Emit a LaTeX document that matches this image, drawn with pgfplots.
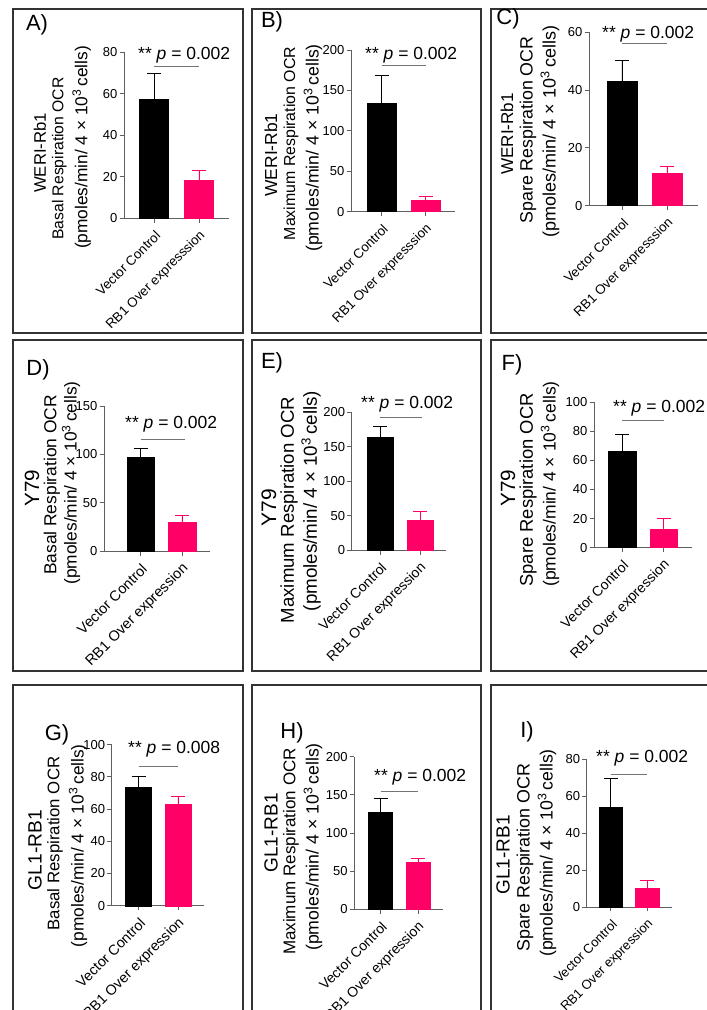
\documentclass[border=0pt]{standalone}
\usepackage{pgfplots}
\pgfplotsset{compat=1.18}
\usepackage{fontspec}
\setmainfont{Liberation Sans}
\definecolor{ocrpink}{RGB}{255,0,102}
\definecolor{axgray}{RGB}{95,95,95}
\tikzset{xlab/.style={rotate=45, anchor=east, inner sep=0pt, font=\fontsize{#1}{#1}\selectfont}}
\newcommand{\xlabs}[2]{%
  \node[xlab=#1] at ([xshift=4pt,yshift=-15pt]axis cs:0,0) {Vector Control};
  \node[xlab=#1] at ([xshift=4pt,yshift=-15pt]axis cs:1,0) {#2};}
\pgfplotsset{
  panel/.style={
    scale only axis, anchor=south west,
    axis x line*=bottom, axis y line*=left,
    axis line style={axgray, line width=0.9pt},
    tick style={axgray, line width=0.9pt},
    tick align=outside, major tick length=4.5pt,
    ymin=0, xtick={0,1}, xticklabels={},
    yticklabel style={font=\fontsize{13}{15}\selectfont, inner sep=2pt},
    /pgf/number format/assume math mode=true,
    clip=false,
  },
  blackbar/.style={ybar, bar width=#1, bar shift=0pt, fill=black, draw=black,
    error bars/y dir=plus, error bars/y explicit,
    error bars/error bar style={black, line width=0.9pt},
    error bars/error mark options={black, rotate=90, mark size=7pt, line width=0.9pt}},
  pinkbar/.style={ybar, bar width=#1, bar shift=0pt, fill=ocrpink, draw=ocrpink,
    error bars/y dir=plus, error bars/y explicit,
    error bars/error bar style={ocrpink, line width=0.9pt},
    error bars/error mark options={ocrpink, rotate=90, mark size=7pt, line width=0.9pt}},
  sigline/.style={black!55, line width=0.8pt, no marks},
}
% one rotated line of the y label: x, y, size, text
\newcommand{\yl}[4]{\node[rotate=90, inner sep=0pt, font=\fontsize{#3}{#3}\selectfont] at (#1,#2) {#4};}
\newcommand{\unitline}{(pmoles/min/ 4 × 10\textsuperscript{3}\,cells)}
\newcommand{\plab}[3]{\node[font=\fontsize{22}{24}\selectfont] at (#1,#2) {#3};}
\newcommand{\sig}[3]{\node[anchor=base west, inner sep=0pt, font=\fontsize{17.5}{19}\selectfont] at (#1,#2) {** \textit{p} = #3};}
\begin{document}
\begin{tikzpicture}[x=1pt,y=1pt]
\useasboundingbox (0,0) rectangle (707,1010);
\clip (0,0) rectangle (707,1010);
% panel boxes
\begin{scope}[black!80, line width=1.3pt]
\draw (13,677) rectangle (243,1001);
\draw (252,677) rectangle (481,1001);
\draw (491,677) rectangle (720,1001);
\draw (13,339) rectangle (243,670);
\draw (252,339) rectangle (481,670);
\draw (491,339) rectangle (720,670);
\draw (13,-20) rectangle (243,325);
\draw (252,-20) rectangle (481,325);
\draw (491,-20) rectangle (720,325);
\end{scope}

% A
\begin{axis}[panel, at={(124pt,791.7pt)}, width=105pt, height=166pt, xmin=-0.667, xmax=1.667, ymax=80, ytick={0,20,40,60,80}]
\addplot[blackbar=29pt] coordinates {(0,57.2) +- (0,12.5)};
\addplot[pinkbar=29pt] coordinates {(1,18.5) +- (0,4.6)};
\addplot[sigline] coordinates {(0,73.1) (1,73.1)};
\xlabs{13.3}{RB1 Over expresssion}
\end{axis}
% B
\begin{axis}[panel, at={(351pt,798.3pt)}, width=104pt, height=161.7pt, xmin=-0.693, xmax=1.67, ymax=200, ytick={0,50,100,150,200}]
\addplot[blackbar=29pt] coordinates {(0,134.4) +- (0,34.6)};
\addplot[pinkbar=29pt] coordinates {(1,14.5) +- (0,4.1)};
\addplot[sigline] coordinates {(0,181.4) (1,181.4)};
\xlabs{13.3}{RB1 Over expresssion}
\end{axis}
% C
\begin{axis}[panel, at={(589pt,804.3pt)}, width=109pt, height=173.4pt, xmin=-0.733, xmax=1.689, ymax=60, ytick={0,20,40,60}]
\addplot[blackbar=30pt] coordinates {(0,43.2) +- (0,7.1)};
\addplot[pinkbar=30pt] coordinates {(1,11.1) +- (0,2.4)};
\addplot[sigline] coordinates {(0,56.2) (1,56.2)};
\xlabs{13.3}{RB1 Over expresssion}
\end{axis}
% D
\begin{axis}[panel, at={(104pt,458.7pt)}, width=106pt, height=145.3pt, xmin=-0.88, xmax=1.675, ymax=150, ytick={0,50,100,150}]
\addplot[blackbar=27.5pt] coordinates {(0,97.3) +- (0,8.6)};
\addplot[pinkbar=27.5pt] coordinates {(1,30.3) +- (0,6.9)};
\addplot[sigline] coordinates {(0,115.9) (1.08,115.9)};
\xlabs{14.5}{RB1 Over expression}
\end{axis}
% E
\begin{axis}[panel, at={(351.7pt,459.7pt)}, width=94.3pt, height=138.3pt, xmin=-0.708, xmax=1.65, ymax=200, ytick={0,50,100,150,200}]
\addplot[blackbar=26pt] coordinates {(0,163.8) +- (0,15)};
\addplot[pinkbar=26pt] coordinates {(1,43.4) +- (0,12.4)};
\addplot[sigline] coordinates {(0,191.8) (1.05,191.8)};
\xlabs{14}{RB1 Over expression}
\end{axis}
% F
\begin{axis}[panel, at={(594pt,462.3pt)}, width=98pt, height=145.7pt, xmin=-0.675, xmax=1.687, ymax=100, ytick={0,20,40,60,80,100}]
\addplot[blackbar=27.5pt] coordinates {(0,66.4) +- (0,11.4)};
\addplot[pinkbar=27.5pt] coordinates {(1,12.8) +- (0,7.6)};
\addplot[sigline] coordinates {(0,87.2) (1,87.2)};
\xlabs{14}{RB1 Over expression}
\end{axis}
% G
\begin{axis}[panel, at={(111.7pt,104.3pt)}, width=92.3pt, height=161pt, xmin=-0.687, xmax=1.662, ymax=100, ytick={0,20,40,60,80,100}]
\addplot[blackbar=26pt] coordinates {(0,73.9) +- (0,6.2)};
\addplot[pinkbar=26pt] coordinates {(1,63.2) +- (0,4.5)};
\addplot[sigline] coordinates {(0,86.8) (1,86.8)};
\xlabs{14.3}{RB1 Over expression}
\end{axis}
% H
\begin{axis}[panel, at={(354.3pt,100.7pt)}, width=88.4pt, height=152.6pt, xmin=-0.699, xmax=1.659, ymax=200, ytick={0,50,100,150,200}]
\addplot[blackbar=24.3pt] coordinates {(0,127.8) +- (0,18)};
\addplot[pinkbar=24.3pt] coordinates {(1,61.5) +- (0,5.3)};
\addplot[sigline] coordinates {(0,154) (1,154)};
\xlabs{14}{RB1 Over expression}
\end{axis}
% I
\begin{axis}[panel, at={(586.7pt,103pt)}, width=85pt, height=148pt, xmin=-0.661, xmax=1.68, ymax=80, ytick={0,20,40,60,80}]
\addplot[blackbar=23.5pt] coordinates {(0,53.7) +- (0,15.7)};
\addplot[pinkbar=23.5pt] coordinates {(1,10.1) +- (0,4.5)};
\addplot[sigline] coordinates {(0,71.7) (1,71.7)};
\xlabs{13}{RB1 Over expression}
\end{axis}

% y labels (three lines each)
\yl{40}{857}{16.7}{WERI-Rb1}
\yl{59.3}{851.5}{15.7}{Basal Respiration OCR}
\yl{81.7}{862.5}{17.3}{\unitline}
\yl{271}{855}{17.4}{WERI-Rb1}
\yl{291}{866.5}{15.9}{Maximum Respiration OCR}
\yl{313}{862}{17.7}{\unitline}
\yl{507}{876}{17.1}{WERI-Rb1}
\yl{528}{880}{17.8}{Spare Respiration OCR}
\yl{550}{878.5}{18}{\unitline}
\yl{32}{522}{20.6}{Y79}
\yl{52}{525}{17.4}{Basal Respiration OCR}
\yl{71}{527}{17.3}{\unitline}
\yl{269}{502.5}{21}{Y79}
\yl{289}{500}{18.6}{Maximum Respiration OCR}
\yl{311}{509}{18.8}{\unitline}
\yl{508}{522}{20.6}{Y79}
\yl{528}{520}{18.4}{Spare Respiration OCR}
\yl{550}{526}{17.5}{\unitline}
\yl{35}{160}{19.2}{GL1-RB1}
\yl{55}{166.5}{16.8}{Basal Respiration OCR}
\yl{78}{164.3}{17.3}{\unitline}
\yl{271}{177}{19}{GL1-RB1}
\yl{291}{158.5}{17}{Maximum Respiration OCR}
\yl{313}{163}{17.7}{\unitline}
\yl{503}{155}{19}{GL1-RB1}
\yl{525}{152.5}{17.9}{Spare Respiration OCR}
\yl{547}{157}{17.7}{\unitline}
% panel labels
\plab{37}{985}{A)}
\plab{272}{988}{B)}
\plab{508}{991}{C)}
\plab{38}{640}{D)}
\plab{272}{647}{E)}
\plab{512}{645}{F)}
\plab{57}{275}{G)}
\plab{292}{277}{H)}
\plab{527}{278}{I)}
% significance
\sig{138}{950.7}{0.002}
\sig{365}{950}{0.002}
\sig{602}{971}{0.002}
\sig{125}{581}{0.002}
\sig{361}{601}{0.002}
\sig{613}{597}{0.002}
\sig{128}{256}{0.008}
\sig{374}{228}{0.002}
\sig{596}{247}{0.002}
\end{tikzpicture}
\end{document}
